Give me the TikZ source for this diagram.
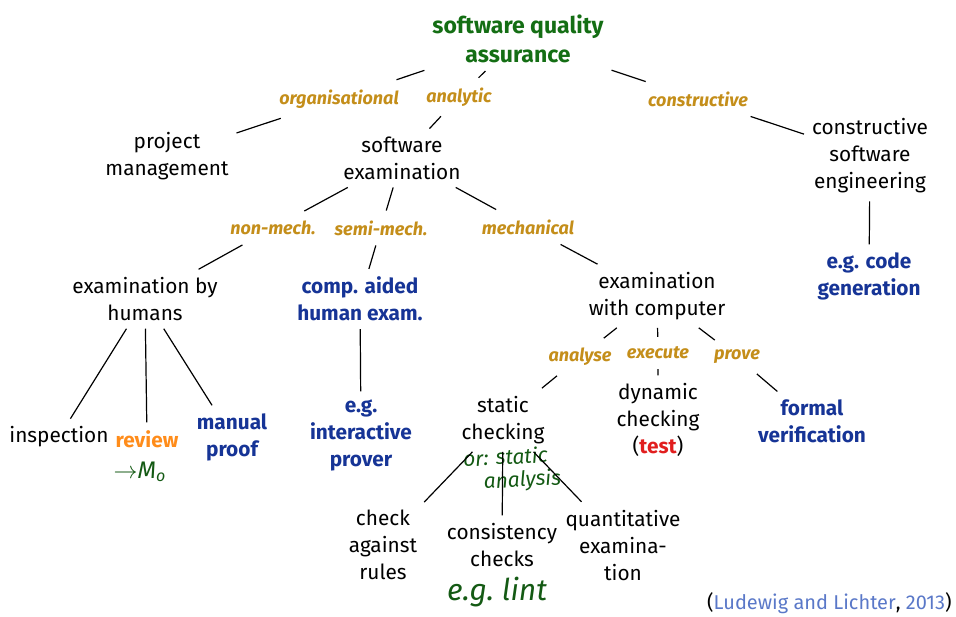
\documentclass[tikz,border=0pt]{standalone}
\usepackage{fontspec}
\setmainfont{Fira Sans}
\definecolor{qgreen}{RGB}{20,110,20}
\definecolor{qgold}{RGB}{196,142,26}
\definecolor{qblue}{RGB}{22,52,150}
\definecolor{qorange}{RGB}{255,140,26}
\definecolor{qred}{RGB}{225,30,30}
\definecolor{qcite}{RGB}{90,120,200}
\definecolor{qhand}{RGB}{20,90,20}
\begin{document}
\begin{tikzpicture}[x=0.5pt,y=-0.5pt,
  txt/.style={align=center,font=\fontsize{10.4}{13.5}\selectfont,inner sep=0pt,outer sep=4pt},
  bluetxt/.style={txt,font=\fontsize{10.4}{13.5}\selectfont\bfseries,text=qblue},
  titletxt/.style={txt,font=\fontsize{11.5}{14.5}\selectfont\bfseries,text=qgreen},
  lbl/.style={font=\fontsize{9}{11}\selectfont\itshape\bfseries,text=qgold,inner sep=0pt,outer sep=5pt},
  hand/.style={align=center,font=\fontsize{10.5}{11.5}\selectfont\itshape,text=qhand,inner sep=0pt},
  edge/.style={draw,line width=0.6pt}]
\useasboundingbox (0,0) rectangle (956,616);

\node[titletxt] (root) at (518,39) {software quality\\assurance};
\node[lbl] (org) at (339,99) {organisational};
\node[lbl] (ana) at (459,97) {analytic};
\node[lbl] (con) at (698,99) {constructive};
\node[txt] (pm) at (167,156) {project\\management};
\node[txt] (se) at (402,158) {software\\examination};
\node[txt] (cse) at (870,156) {constructive\\software\\engineering};
\node[bluetxt] (cg) at (869,276) {e.g. code\\generation};

\node[lbl] (nm) at (273,228) {non-mech.};
\node[lbl] (sm) at (381,228) {semi-mech.};
\node[lbl] (me) at (528,227) {mechanical};
\node[txt] (eh) at (145,299) {examination by\\humans};
\node[bluetxt] (ca) at (360,299) {comp. aided\\human exam.};
\node[txt] (ec) at (657,296) {examination\\with computer};

\node[lbl] (an) at (580,357) {analyse};
\node[lbl] (ex) at (658,353) {execute};
\node[lbl] (pr) at (737,357) {prove};
\node[txt] (sc) at (503,420) {static\\checking};
\node[txt] (dc) at (658,420) {dynamic\\checking\\(\textcolor{qred}{\bfseries test})};
\node[bluetxt] (fv) at (812,421) {formal\\verification};

\node[txt] (ins) at (59,437) {inspection};
\node[txt,font=\fontsize{10.4}{13.5}\selectfont\bfseries,text=qorange] (rev) at (147,439) {review};
\node[bluetxt] (mp) at (232,437) {manual\\proof};
\node[bluetxt] (ip) at (361,435) {e.g.\\interactive\\prover};

\node[txt] (car) at (383,545) {check\\against\\rules};
\node[txt] (cc) at (502,545) {consistency\\checks};
\node[txt] (qe) at (623,545) {quantitative\\examina-\\tion};

\node[hand,rotate=3] (h1) at (506,470) {or: static\\\hspace*{1.5em}analysis};
\node[hand,font=\fontsize{15}{15}\selectfont\itshape] (h2) at (497,592) {e.g.\ lint};
\node[hand,font=\fontsize{12}{12}\selectfont\itshape] (h3) at (140,472) {$\rightarrow$M\textsubscript{o}};

\node[font=\fontsize{10}{12}\selectfont,anchor=south east,inner sep=0pt] (cite) at (952,614) {(\textcolor{qcite}{Ludewig and Lichter}, \textcolor{qcite}{2013})};

\path[edge] (root) -- (org) (org) -- (pm);
\path[edge] (root) -- (ana) (ana) -- (se);
\path[edge] (root) -- (con) (con) -- (cse);
\path[edge] (cse) -- (cg);
\path[edge] (se) -- (nm) (nm) -- (eh);
\path[edge] (se) -- (sm) (sm) -- (ca);
\path[edge] (se) -- (me) (me) -- (ec);
\path[edge] (ec) -- (an) (an) -- (sc);
\path[edge] (ec) -- (ex) (ex) -- (dc);
\path[edge] (ec) -- (pr) (pr) -- (fv);
\path[edge] (eh) -- (ins);
\path[edge] (eh) -- (rev);
\path[edge] (eh) -- (mp);
\path[edge] (ca) -- (ip);
\path[edge] (sc) -- (car);
\path[edge] (sc) -- (cc);
\path[edge] (sc) -- (qe);
\end{tikzpicture}
\end{document}
